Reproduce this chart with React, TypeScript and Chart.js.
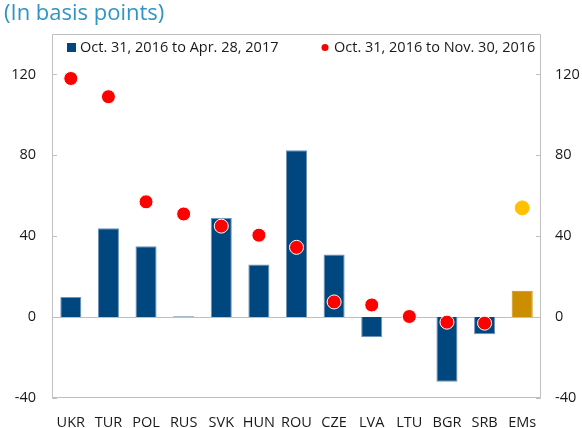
import React, { useEffect, useRef } from "react";
import { Chart, registerables } from "chart.js";

Chart.register(...registerables);

const categories = ["UKR", "TUR", "POL", "RUS", "SVK", "HUN", "ROU", "CZE", "LVA", "LTU", "BGR", "SRB", "EMs"];
const barValues = [10, 44, 35, 0.4, 49, 26, 82.5, 31, -10, 0, -32, -8.5, 13];
const dotValues = [118, 109, 57, 51, 45, 40.5, 34.5, 7.5, 6, 0.3, -2.5, -3, 54];
const yTicks = [-40, 0, 40, 80, 120];
const titleText = "(In basis points)";
const legendBar = "Oct. 31, 2016 to Apr. 28, 2017";
const legendDot = "Oct. 31, 2016 to Nov. 30, 2016";

const BLUE = "#00477F";
const GOLD = "#CC8E00";
const RED = "#FF0000";
const YELLOW = "#FFC000";
const AXIS = "#BFBFBF";
const FONT = "'Open Sans', 'Noto Sans', sans-serif";

export default function App() {
  const ref = useRef<HTMLCanvasElement>(null);

  useEffect(() => {
    document.body.style.margin = "0";
    const canvas = ref.current;
    if (!canvas) return;

    const decor = {
      id: "decor",
      beforeDatasetsDraw(chart: any) {
        const ctx = chart.ctx;
        const a = chart.chartArea;
        const y = chart.scales.y;
        ctx.save();
        ctx.strokeStyle = AXIS;
        ctx.lineWidth = 1;
        ctx.beginPath();
        ctx.rect(a.left + 0.5, a.top + 0.5, a.right - a.left - 1, a.bottom - a.top - 1);
        ctx.stroke();
        const z = Math.round(y.getPixelForValue(0)) + 0.5;
        ctx.beginPath();
        ctx.moveTo(a.left, z);
        ctx.lineTo(a.right, z);
        ctx.stroke();
        for (const t of yTicks) {
          const py = Math.round(y.getPixelForValue(t)) + 0.5;
          ctx.beginPath();
          ctx.moveTo(a.left, py);
          ctx.lineTo(a.left + 5, py);
          ctx.moveTo(a.right - 5, py);
          ctx.lineTo(a.right, py);
          ctx.stroke();
        }
        ctx.restore();
      },
      afterDraw(chart: any) {
        const ctx = chart.ctx;
        ctx.save();
        ctx.fillStyle = "#2E95C4";
        ctx.font = `22px ${FONT}`;
        ctx.textBaseline = "middle";
        ctx.textAlign = "left";
        ctx.fillText(titleText, 4, 14);
        // legend
        ctx.fillStyle = BLUE;
        ctx.fillRect(67, 43, 9, 9);
        ctx.fillStyle = "#1a1a1a";
        ctx.font = `14.5px ${FONT}`;
        ctx.fillText(legendBar, 80, 48);
        ctx.fillStyle = RED;
        ctx.beginPath();
        ctx.arc(325, 47.5, 3.5, 0, Math.PI * 2);
        ctx.fill();
        ctx.fillStyle = "#1a1a1a";
        ctx.fillText(legendDot, 334, 48);
        ctx.restore();
      },
    };

    const chart = new Chart(canvas, {
      type: "bar",
      data: {
        labels: categories,
        datasets: [
          {
            type: "line",
            label: legendDot,
            data: dotValues,
            showLine: false,
            pointRadius: 7,
            pointHoverRadius: 7,
            pointBackgroundColor: categories.map((c) => (c === "EMs" ? YELLOW : RED)),
            pointBorderColor: categories.map((c) => (c === "EMs" ? YELLOW : "#FFFFFF")),
            pointBorderWidth: 1,
            order: 0,
            yAxisID: "y",
          } as any,
          {
            type: "bar",
            label: legendBar,
            data: barValues,
            backgroundColor: categories.map((c) => (c === "EMs" ? GOLD : BLUE)),
            borderColor: categories.map((c) => (c === "EMs" ? GOLD : "#6F93BA")),
            borderWidth: 1,
            barPercentage: 0.56,
            categoryPercentage: 1,
            order: 1,
            yAxisID: "y",
          },
        ],
      },
      options: {
        animation: false,
        responsive: false,
        maintainAspectRatio: false,
        layout: { padding: { top: 34, left: 0, right: 0, bottom: 0 } },
        plugins: {
          legend: { display: false },
          title: { display: false },
          tooltip: { enabled: false },
        },
        scales: {
          x: {
            offset: true,
            grid: { display: false, drawTicks: false },
            border: { display: false },
            ticks: { color: "#1a1a1a", font: { size: 14.5, family: FONT }, padding: 16, maxRotation: 0, autoSkip: false },
            afterFit(s: any) { s.height = 30; },
          },
          y: {
            position: "left",
            min: -40,
            max: 140,
            afterBuildTicks(s: any) { s.ticks = yTicks.map((v) => ({ value: v })); },
            grid: { display: false, drawTicks: false },
            border: { display: false },
            ticks: { color: "#1a1a1a", font: { size: 14.5, family: FONT }, padding: 16 },
            afterFit(s: any) { s.width = 52; },
          },
          y2: {
            position: "right",
            min: -40,
            max: 140,
            afterBuildTicks(s: any) { s.ticks = yTicks.map((v) => ({ value: v })); },
            grid: { display: false, drawTicks: false },
            border: { display: false },
            ticks: { color: "#1a1a1a", font: { size: 14.5, family: FONT }, padding: 14 },
            afterFit(s: any) { s.width = 41; },
          },
        },
      },
      plugins: [decor],
    } as any);

    return () => chart.destroy();
  }, []);

  return (
    <div style={{ width: 582, height: 428 }}>
      <canvas ref={ref} width={582} height={428} style={{ width: 582, height: 428, display: "block" }} />
    </div>
  );
}
